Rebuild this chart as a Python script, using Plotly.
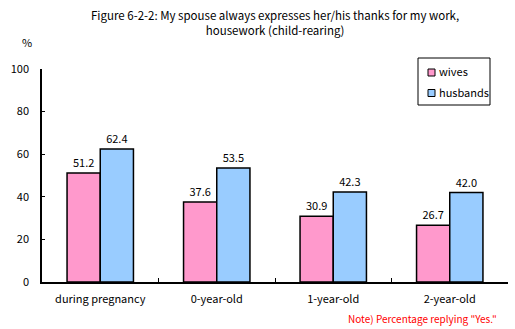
import plotly.graph_objects as go

categories = ["during pregnancy", "0-year-old", "1-year-old", "2-year-old"]
wives = [51.2, 37.6, 30.9, 26.7]
husbands = [62.4, 53.5, 42.3, 42.0]
y_ticks = [0, 20, 40, 60, 80, 100]

FONT = "Noto Sans CJK JP"
PINK, BLUE = "#FF99CC", "#99CCFF"

# Page and plot-area geometry in pixels
W, H = 515, 329
L, R, T, B = 42, 7, 69, 47
PW, PH = W - L - R, H - T - B


def px_x(x):
    return (x - L) / PW


def px_y(y):
    return (H - B - y) / PH


fig = go.Figure()
for name, vals, color in (("wives", wives, PINK), ("husbands", husbands, BLUE)):
    fig.add_trace(go.Bar(
        name=name, x=categories, y=vals,
        marker=dict(color=color, line=dict(color="black", width=1.5)),
        text=[f"{v:.1f}" for v in vals], textposition="outside",
        textfont=dict(size=11, color="black", family=FONT), cliponaxis=False,
    ))

annotations = [
    dict(text="Figure 6-2-2: My spouse always expresses her/his thanks for my work,<br>housework (child-rearing)",
         x=px_x(275), y=px_y(22.5), xanchor="center", yanchor="middle",
         font=dict(size=11.5)),
    dict(text="%", x=px_x(27), y=px_y(42), xanchor="center", yanchor="middle",
         font=dict(size=11)),
    dict(text='Note) Percentage replying "Yes."', x=px_x(499), y=px_y(318),
         xanchor="right", yanchor="middle", font=dict(size=10, color="red")),
]

# Boxed legend drawn with shapes so the swatches stay small
shapes = [dict(type="rect", xref="paper", yref="paper",
               x0=px_x(418), x1=px_x(490), y0=px_y(58), y1=px_y(105),
               line=dict(color="black", width=1), fillcolor="white", layer="above")]
for name, color, cy in (("wives", PINK, 72.5), ("husbands", BLUE, 93)):
    shapes.append(dict(type="rect", xref="paper", yref="paper",
                       x0=px_x(428), x1=px_x(435), y0=px_y(cy - 3.5), y1=px_y(cy + 3.5),
                       line=dict(color="black", width=1), fillcolor=color, layer="above"))
    annotations.append(dict(text=name, x=px_x(437), y=px_y(cy - 1), xanchor="left",
                            yanchor="middle", font=dict(size=11)))

for a in annotations:
    a.update(xref="paper", yref="paper", showarrow=False)

fig.update_layout(
    width=W, height=H,
    margin=dict(l=L, r=R, t=T, b=B),
    paper_bgcolor="white", plot_bgcolor="white",
    font=dict(family=FONT, size=11, color="black"),
    barmode="group", bargap=0.43, bargroupgap=0,
    showlegend=False,
    annotations=annotations,
    shapes=shapes,
    xaxis=dict(
        showline=True, linecolor="black", linewidth=1.5,
        ticks="inside", tickson="boundaries", ticklen=4, tickcolor="black",
        showgrid=False, tickfont=dict(size=11), ticklabelstandoff=6,
    ),
    yaxis=dict(
        range=[0, 100], tickvals=y_ticks,
        showline=True, linecolor="black", linewidth=1.5,
        ticks="inside", ticklen=3, tickcolor="black",
        showgrid=False, zeroline=False, tickfont=dict(size=11),
        ticklabelstandoff=9,
    ),
)

fig.write_html("out.html")
